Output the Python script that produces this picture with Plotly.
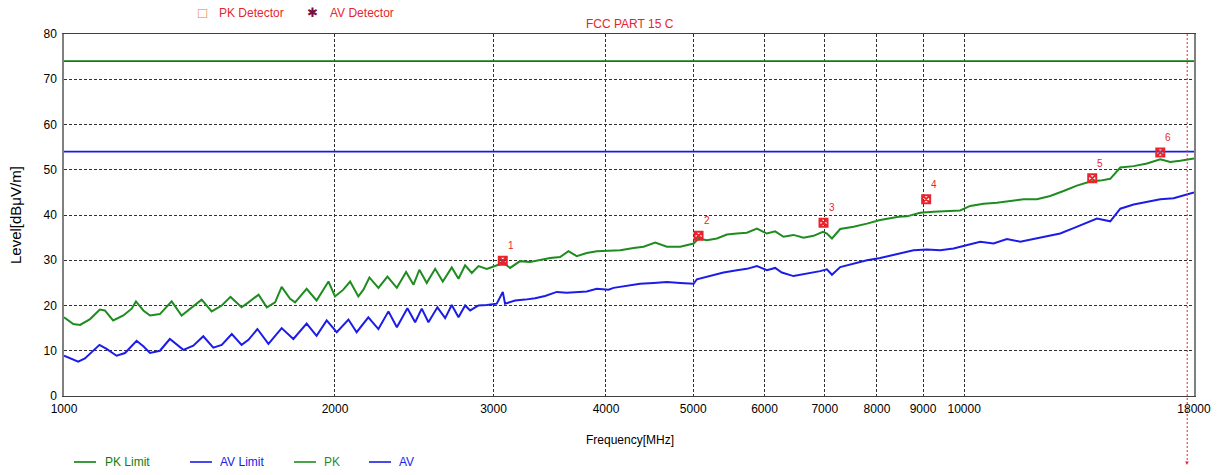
import math
import plotly.graph_objects as go

# ---------------- data ----------------
pk_freq = [1000, 1024, 1042, 1069, 1096, 1110, 1134, 1164, 1189, 1202, 1225, 1246, 1278, 1317,
           1351, 1386, 1422, 1459, 1497, 1531, 1575, 1603, 1645, 1680, 1716, 1745, 1783, 1806,
           1860, 1908, 1967, 2000, 2043, 2079, 2123, 2151, 2184, 2235, 2287, 2343, 2399, 2445,
           2482, 2529, 2584, 2635, 2696, 2743, 2790, 2838, 2887, 2949, 3012, 3077, 3130, 3211,
           3294, 3380, 3467, 3557, 3634, 3712, 3808, 3907, 4026, 4149, 4293, 4404, 4537, 4675,
           4837, 5005, 5069, 5178, 5312, 5450, 5591, 5736, 5885, 6037, 6166, 6299, 6463, 6630,
           6802, 6967, 7039, 7130, 7282, 7536, 7797, 8066, 8275, 8455, 8638, 8935, 9246, 9567,
           9898, 10155, 10507, 10872, 11248, 11640, 12043, 12461, 12893, 13341, 13804, 14162,
           14529, 14907, 15425, 15960, 16513, 16940, 17378, 18000]
pk_level = [17.4, 15.9, 15.7, 17.0, 19.1, 18.9, 16.7, 17.8, 19.3, 20.9, 18.9, 17.8, 18.1, 20.9,
            17.8, 19.6, 21.3, 18.7, 20.0, 21.9, 19.6, 20.7, 22.4, 19.6, 20.7, 24.1, 21.5, 20.7,
            23.7, 21.1, 25.3, 22.0, 23.5, 25.3, 22.0, 23.5, 26.2, 23.9, 26.4, 23.9, 27.4, 24.6,
            27.9, 25.0, 28.1, 25.3, 28.4, 25.9, 28.9, 27.2, 28.7, 28.1, 28.7, 29.4, 28.3, 29.8,
            29.6, 30.1, 30.5, 30.7, 32.0, 30.9, 31.6, 32.0, 32.1, 32.2, 32.7, 33.0, 33.9, 33.0,
            33.0, 33.7, 34.8, 34.4, 34.8, 35.7, 35.9, 36.1, 37.0, 35.9, 36.4, 35.2, 35.6, 35.0,
            35.4, 36.3, 35.9, 34.8, 36.9, 37.4, 38.1, 38.9, 39.3, 39.6, 39.7, 40.5, 40.7, 40.8,
            41.0, 42.0, 42.5, 42.7, 43.1, 43.5, 43.5, 44.2, 45.3, 46.5, 47.4, 47.6,
            48.0, 50.5, 50.8, 51.4, 52.3, 51.7, 52.0, 52.5]

av_freq = [1000, 1024, 1037, 1055, 1073, 1095, 1115, 1144, 1169, 1204, 1225, 1246, 1278, 1311,
           1357, 1392, 1428, 1465, 1497, 1536, 1575, 1603, 1640, 1687, 1745, 1798, 1860, 1908,
           1958, 2009, 2070, 2114, 2178, 2235, 2293, 2343, 2407, 2455, 2497, 2540, 2599, 2651,
           2696, 2743, 2790, 2826, 2887, 2949, 3025, 3072, 3090, 3170, 3252, 3337, 3423, 3527,
           3618, 3712, 3808, 3907, 4026, 4078, 4220, 4365, 4517, 4675, 4837, 5005, 5047, 5222,
           5403, 5591, 5736, 5885, 6037, 6166, 6272, 6463, 6687, 6918, 7039, 7130, 7282, 7536,
           7797, 8066, 8275, 8455, 8784, 9088, 9404, 9731, 10068, 10418, 10779, 11153, 11541,
           11941, 12355, 12783, 13227, 13687, 14042, 14529, 14907, 15425, 15960, 16513, 17085,
           17677, 18000]
av_level = [8.9, 8.1, 7.6, 8.3, 9.6, 11.3, 10.4, 8.9, 9.5, 12.2, 11.0, 9.5, 10.0, 12.6,
            10.2, 11.1, 13.2, 10.7, 11.3, 13.7, 11.3, 12.4, 14.8, 11.5, 15.0, 12.6, 16.0, 13.3,
            16.7, 14.1, 16.9, 14.1, 17.4, 14.8, 18.7, 15.2, 19.4, 16.3, 19.3, 16.3, 19.6, 17.2,
            20.1, 17.4, 20.0, 18.9, 20.0, 20.1, 20.4, 23.0, 20.4, 21.1, 21.3, 21.6, 22.1, 23.0,
            22.8, 23.0, 23.1, 23.7, 23.5, 23.9, 24.3, 24.8, 25.0, 25.2, 25.0, 24.8, 25.8, 26.5,
            27.3, 27.8, 28.1, 28.7, 27.8, 28.3, 27.3, 26.5, 27.0, 27.6, 28.0, 26.8, 28.5, 29.3,
            30.0, 30.5, 31.0, 31.5, 32.2, 32.4, 32.2, 32.6, 33.3, 34.1, 33.7, 34.7, 34.1,
            34.7, 35.2, 35.9, 37.1, 38.4, 39.2, 38.6, 41.4, 42.3, 42.9, 43.5, 43.7,
            44.6, 45.0]

limit_freq = [1000, 18000]
pk_limit = [74, 74]
av_limit = [54, 54]

mk_freq = [3072, 5069, 6978, 9073, 13875, 16513]
mk_level = [29.9, 35.4, 38.3, 43.5, 48.1, 53.8]
mk_label = ["1", "2", "3", "4", "5", "6"]

x_tick_vals = [1000, 2000, 3000, 4000, 5000, 6000, 7000, 8000, 9000, 10000, 18000]
x_tick_text = ["1000", "2000", "3000", "4000", "5000", "6000", "7000", "8000", "9000", "10000", "18000"]
y_tick_vals = [0, 10, 20, 30, 40, 50, 60, 70, 80]

cursor_freq = 17690

# ---------------- styling ----------------
FONT = "Liberation Sans, Arial, sans-serif"
GREEN_LIM = "#0c7f0c"
BLUE_LIM = "#1a1ae6"
GREEN = "#1f8c1f"
BLUE = "#1c1ce8"
RED = "#e8242c"

L, R, T, B = 64, 1194, 34, 396
W, H = 1225, 475


def px(xp):
    return (xp - L) / (R - L)


def py(yp):
    return (B - yp) / (B - T)


def note(xp, yp, text, color, size=12, xanchor="center", **kw):
    return dict(x=px(xp), y=py(yp), xref="paper", yref="paper", text=text,
                xanchor=xanchor, yanchor="middle", showarrow=False,
                font=dict(family=FONT, size=size, color=color), **kw)


fig = go.Figure()
fig.add_trace(go.Scatter(x=limit_freq, y=pk_limit, mode="lines",
                         line=dict(color=GREEN_LIM, width=1.6), showlegend=False))
fig.add_trace(go.Scatter(x=limit_freq, y=av_limit, mode="lines",
                         line=dict(color=BLUE_LIM, width=1.6), showlegend=False))
fig.add_trace(go.Scatter(x=pk_freq, y=pk_level, mode="lines",
                         line=dict(color=GREEN, width=2), showlegend=False))
fig.add_trace(go.Scatter(x=av_freq, y=av_level, mode="lines",
                         line=dict(color=BLUE, width=2), showlegend=False))
fig.add_trace(go.Scatter(x=mk_freq, y=mk_level, mode="markers",
                         marker=dict(symbol="square-x-open", size=8, color=RED,
                                     line=dict(color=RED, width=2)),
                         showlegend=False))

annotations = []
for f, v, t in zip(mk_freq, mk_level, mk_label):
    annotations.append(dict(x=math.log10(f), y=v, xref="x", yref="y", text=t,
                            showarrow=False, xshift=8, yshift=15,
                            font=dict(family=FONT, size=10, color=RED)))

# titles
annotations.append(note(630, 24, "FCC PART 15 C", RED, 12))
annotations.append(note(630, 440, "Frequency[MHz]", "#000", 12))
annotations.append(note(15, 215, "Level[dBμV/m]", "#000", 15, textangle=-90))

# top legend
annotations.append(note(202, 13, "□", "#f07838", 15))
annotations.append(note(217, 13, "PK Detector", RED, 12, xanchor="left"))
annotations.append(note(312, 13, "✱", "#7a1040", 13))
annotations.append(note(328, 13, "AV Detector", RED, 12, xanchor="left"))

# bottom legend
shapes = []
bottom_items = [(74, 96, 103, "PK Limit", GREEN_LIM),
                (190, 212, 218, "AV Limit", BLUE_LIM),
                (294, 316, 322, "PK", GREEN),
                (369, 391, 397, "AV", BLUE)]
for x0, x1, xt, txt, col in bottom_items:
    shapes.append(dict(type="line", xref="paper", yref="paper", x0=px(x0), x1=px(x1),
                       y0=py(462), y1=py(462), line=dict(color=col, width=1.6)))
    annotations.append(note(xt, 462, txt, col, 12, xanchor="left"))

# red cursor line with arrow
shapes.append(dict(type="line", xref="x", yref="paper", x0=cursor_freq, x1=cursor_freq,
                   y0=1, y1=py(461), line=dict(color=RED, width=1, dash="2px,2px")))
annotations.append(dict(x=math.log10(cursor_freq), y=py(463), xref="x", yref="paper", text="▼",
                        yanchor="middle", showarrow=False, font=dict(family=FONT, size=6, color=RED)))

fig.update_layout(
    width=W, height=H,
    margin=dict(l=L, r=W - R, t=T, b=H - B),
    paper_bgcolor="white", plot_bgcolor="white",
    font=dict(family=FONT, size=12, color="#000"),
    xaxis=dict(type="log", range=[3, math.log10(18000)], tickvals=x_tick_vals, ticktext=x_tick_text,
               showgrid=True, gridcolor="#303030", griddash="3px,2px", gridwidth=1,
               showline=True, linecolor="#404040", linewidth=1, mirror=True,
               ticks="", ticklabelstandoff=2, zeroline=False,
               tickfont=dict(family=FONT, size=12, color="#000")),
    yaxis=dict(range=[0, 80], tickvals=y_tick_vals,
               showgrid=True, gridcolor="#303030", griddash="3px,2px", gridwidth=1,
               showline=True, linecolor="#808080", linewidth=1.5, mirror=True,
               ticks="", ticklabelstandoff=3, zeroline=False,
               tickfont=dict(family=FONT, size=12, color="#000")),
    annotations=annotations,
    shapes=shapes,
)

fig.write_html("out.html")
